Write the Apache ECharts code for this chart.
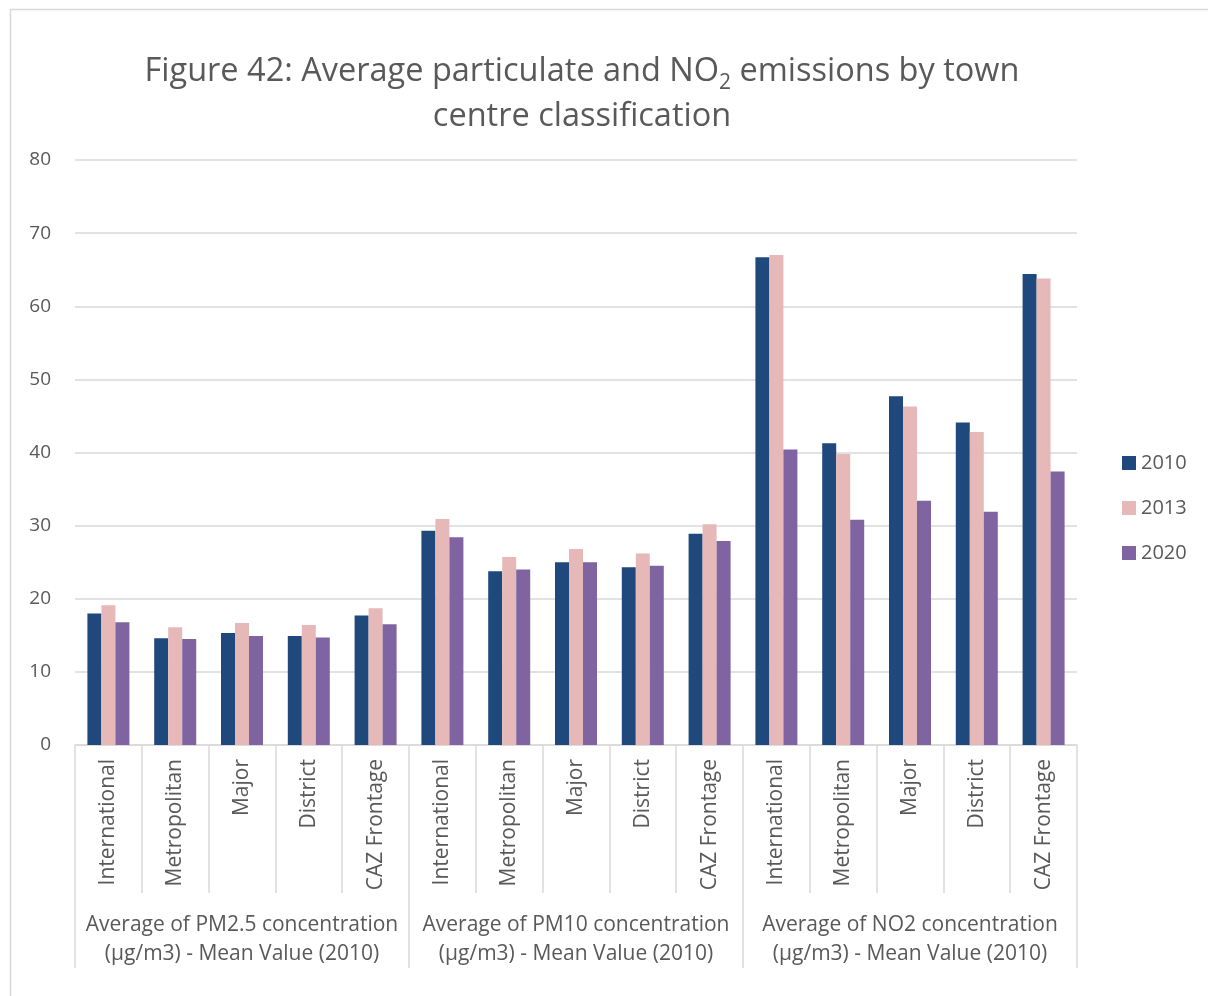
<!DOCTYPE html>
<html>
<head>
<meta charset="utf-8">
<script src="https://cdn.jsdelivr.net/npm/echarts@6/dist/echarts.min.js"></script>
<style>
html,body{margin:0;padding:0;background:#fff;}
#c{width:1208px;height:996px;}
</style>
</head>
<body>
<div id="c"></div>
<script>
const categories = ['International','Metropolitan','Major','District','CAZ Frontage',
                    'International','Metropolitan','Major','District','CAZ Frontage',
                    'International','Metropolitan','Major','District','CAZ Frontage'];
const groups = ['Average of PM2.5 concentration\n(µg/m3) - Mean Value (2010)',
                'Average of PM10 concentration\n(µg/m3) - Mean Value (2010)',
                'Average of NO2 concentration\n(µg/m3) - Mean Value (2010)'];
const seriesNames = ['2010','2013','2020'];
const v2010 = [18.0,14.6,15.3,14.9,17.7, 29.3,23.75,25.0,24.3,28.9, 66.7,41.25,47.7,44.1,64.4];
const v2013 = [19.1,16.1,16.7,16.4,18.7, 30.9,25.7,26.8,26.2,30.2, 67.0,39.8,46.3,42.8,63.8];
const v2020 = [16.8,14.5,14.9,14.7,16.5, 28.4,24.0,25.0,24.5,27.9, 40.4,30.8,33.4,31.9,37.4];
const colors = ['#1F497D','#E6B9B8','#8064A2'];

const chart = echarts.init(document.getElementById('c'), null, {renderer:'canvas'});
const font = 'Open Sans';
const txt = '#595959';
const grid = '#d9d9d9';
const mk = (name, data, i) => ({
  name, type:'bar', data, barWidth:14, barGap:'0%',
  itemStyle:{color:colors[i]}, xAxisIndex:0
});
chart.setOption({
  animation:false,
  backgroundColor:'#fff',
  textStyle:{fontFamily:font},
  title:{
    text:'Figure 42: Average particulate and NO{sub|2} emissions by town\n{t|centre classification}',
    left:577, top:44, textAlign:'center',
    textStyle:{fontFamily:font, fontSize:32.5, fontWeight:'normal', color:txt, lineHeight:45,
      rich:{sub:{fontSize:21, verticalAlign:'bottom', padding:[15,0,0,0], color:txt, fontFamily:font},
            t:{fontSize:32.5, color:txt, fontFamily:font, lineHeight:45}}}
  },
  legend:{
    orient:'vertical', left:1117, top:448, itemWidth:14, itemHeight:14, itemGap:25,
    icon:'rect', data:seriesNames,
    textStyle:{fontFamily:font, fontSize:20, color:txt}
  },
  grid:{left:75, right:131, top:160, bottom:251, containLabel:false},
  xAxis:[{
    type:'category', data:categories, position:'bottom',
    axisLine:{lineStyle:{color:grid, width:1.5}},
    axisTick:{show:true, length:148, interval:0, lineStyle:{color:grid, width:1.5}},
    axisLabel:{rotate:90, interval:0, margin:14, fontFamily:font, fontSize:21, color:txt}
  },{
    type:'category', data:groups, position:'bottom', gridIndex:0,
    axisLine:{show:false},
    axisTick:{show:true, length:223, interval:0, lineStyle:{color:grid, width:1.5}},
    axisLabel:{interval:0, margin:166, fontFamily:font, fontSize:21, color:txt, lineHeight:29}
  }],
  yAxis:{
    type:'value', min:0, max:80, interval:10,
    axisLine:{show:false}, axisTick:{show:false},
    splitLine:{lineStyle:{color:grid, width:1.5}},
    axisLabel:{fontFamily:font, fontSize:19, color:txt, margin:24}
  },
  series:[mk('2010',v2010,0), mk('2013',v2013,1), mk('2020',v2020,2)],
  graphic:[{type:'rect', shape:{x:10.5, y:9.5, width:1300, height:1100},
    style:{fill:'none', stroke:'#d9d9d9', lineWidth:1.5}, silent:true, z:-1}]
});
</script>
</body>
</html>
